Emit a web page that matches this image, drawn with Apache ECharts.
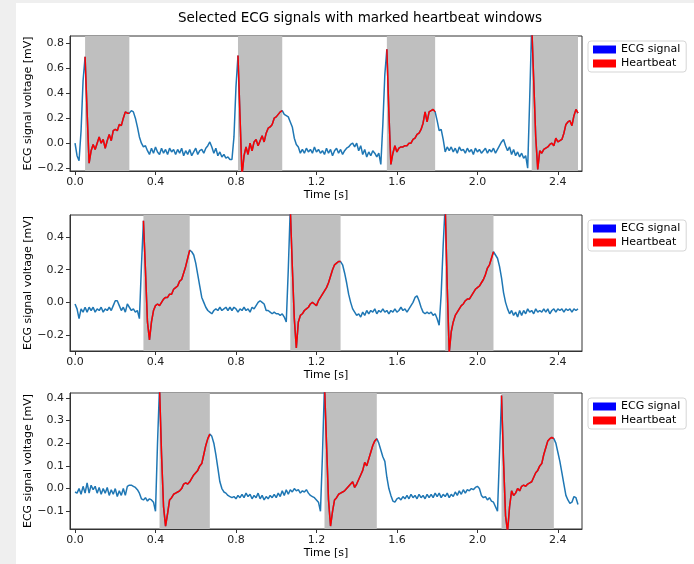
<!DOCTYPE html>
<html>
<head>
<meta charset="utf-8">
<script src="https://cdn.jsdelivr.net/npm/echarts@6/dist/echarts.min.js"></script>
<style>
html, body { margin: 0; padding: 0; }
#chart { width: 694px; height: 564px; }
</style>
</head>
<body>
<div id="chart"></div>
<script>
// sampling step of the signals [s]
var dt = 0.01;

// ECG signal 1 (0.00 .. 2.50 s) [mV]
var ecg1 = [
  0.00,-0.10,-0.14,0.10,0.50,0.69,0.25,-0.16,-0.06,-0.01,
  -0.05,0.00,0.05,0.00,0.03,-0.04,0.02,0.07,0.02,0.10,
  0.11,0.10,0.15,0.14,0.20,0.25,0.24,0.24,0.26,0.25,
  0.20,0.13,0.05,0.00,-0.03,-0.02,-0.06,-0.09,-0.04,-0.08,
  -0.03,-0.07,-0.09,-0.04,-0.08,-0.05,-0.09,-0.04,-0.07,-0.05,
  -0.09,-0.05,-0.08,-0.04,-0.10,-0.06,-0.09,-0.05,-0.10,-0.07,
  -0.04,-0.09,-0.06,-0.05,-0.08,-0.04,-0.02,0.01,-0.03,-0.08,
  -0.04,-0.10,-0.07,-0.11,-0.09,-0.12,-0.11,-0.13,-0.13,0.05,
  0.45,0.70,0.22,-0.26,-0.10,-0.03,-0.09,0.00,-0.06,0.01,
  0.03,-0.02,0.02,0.06,0.01,0.08,0.12,0.13,0.15,0.20,
  0.21,0.23,0.25,0.26,0.23,0.22,0.21,0.17,0.13,0.04,
  -0.01,-0.03,-0.08,-0.05,-0.08,-0.04,-0.07,-0.05,-0.08,-0.03,
  -0.07,-0.05,-0.08,-0.06,-0.09,-0.04,-0.08,-0.05,-0.10,-0.06,
  -0.04,-0.08,-0.05,-0.09,-0.06,-0.04,-0.03,-0.01,0.00,-0.03,
  0.00,-0.06,-0.02,-0.09,-0.05,-0.11,-0.07,-0.10,-0.06,-0.08,
  -0.11,-0.08,-0.17,0.15,0.55,0.75,0.25,-0.17,-0.08,-0.02,
  -0.07,-0.04,-0.03,-0.03,-0.02,-0.02,0.00,0.00,0.03,0.04,
  0.07,0.08,0.11,0.16,0.25,0.17,0.25,0.26,0.27,0.25,
  0.18,0.10,0.11,0.03,-0.07,-0.03,-0.06,-0.03,-0.07,-0.04,
  -0.08,-0.03,-0.06,-0.05,-0.08,-0.04,-0.07,-0.05,-0.09,-0.04,
  -0.07,-0.05,-0.08,-0.06,-0.04,-0.08,-0.05,-0.07,-0.04,-0.08,
  -0.05,-0.02,0.01,0.03,-0.02,-0.06,-0.03,-0.09,-0.05,-0.10,
  -0.07,-0.11,-0.08,-0.12,-0.10,-0.20,0.35,0.95,0.50,0.05,
  -0.21,-0.06,-0.08,-0.05,-0.04,-0.03,-0.01,0.00,-0.02,0.04,
  0.01,0.02,0.03,0.08,0.15,0.17,0.18,0.14,0.22,0.27,
  0.24
];
// ECG signal 2
var ecg2 = [
  -0.01,-0.04,-0.10,-0.04,-0.06,-0.03,-0.06,-0.03,-0.05,-0.03,
  -0.06,-0.04,-0.05,-0.03,-0.06,-0.04,-0.05,-0.03,-0.05,-0.02,
  0.01,0.01,-0.02,-0.05,-0.03,-0.06,-0.01,-0.03,-0.05,-0.04,
  -0.06,-0.05,-0.10,0.22,0.50,0.20,-0.12,-0.23,-0.12,-0.05,
  -0.02,-0.01,-0.02,0.00,0.02,0.03,0.03,0.05,0.05,0.08,
  0.09,0.10,0.13,0.14,0.18,0.22,0.27,0.32,0.31,0.29,
  0.24,0.17,0.10,0.03,0.00,-0.03,-0.05,-0.06,-0.07,-0.05,
  -0.04,-0.05,-0.03,-0.05,-0.04,-0.03,-0.05,-0.03,-0.05,-0.03,
  -0.04,-0.06,-0.04,-0.05,-0.03,-0.05,-0.04,-0.06,-0.03,-0.04,
  -0.02,0.00,0.01,0.00,-0.01,-0.05,-0.05,-0.06,-0.07,-0.06,
  -0.07,-0.07,-0.08,-0.07,-0.09,-0.12,0.20,0.58,0.22,-0.10,
  -0.28,-0.12,-0.08,-0.07,-0.05,-0.04,-0.03,-0.01,0.00,-0.01,
  -0.02,0.01,0.03,0.05,0.07,0.09,0.12,0.16,0.20,0.23,
  0.24,0.25,0.25,0.23,0.18,0.12,0.05,0.00,-0.04,-0.06,
  -0.08,-0.07,-0.09,-0.06,-0.08,-0.05,-0.07,-0.05,-0.06,-0.04,
  -0.07,-0.05,-0.06,-0.04,-0.06,-0.05,-0.07,-0.05,-0.06,-0.04,
  -0.06,-0.05,-0.03,-0.05,-0.04,-0.06,-0.04,-0.02,0.00,0.03,
  0.04,0.01,-0.03,-0.06,-0.07,-0.06,-0.07,-0.06,-0.08,-0.07,
  -0.10,-0.14,0.05,0.35,0.60,0.10,-0.31,-0.18,-0.12,-0.08,
  -0.06,-0.04,-0.02,-0.01,0.01,0.02,0.02,0.04,0.06,0.08,
  0.09,0.10,0.12,0.14,0.17,0.21,0.23,0.27,0.31,0.29,
  0.27,0.22,0.15,0.06,0.00,-0.04,-0.07,-0.05,-0.08,-0.06,
  -0.09,-0.05,-0.08,-0.05,-0.07,-0.04,-0.06,-0.05,-0.07,-0.04,
  -0.06,-0.05,-0.06,-0.04,-0.06,-0.04,-0.07,-0.05,-0.04,-0.06,
  -0.04,-0.05,-0.04,-0.06,-0.04,-0.05,-0.04,-0.06,-0.04,-0.05,
  -0.04
];
// ECG signal 3
var ecg3 = [
  -0.015,-0.02,0.00,-0.025,0.01,-0.02,0.025,-0.02,0.015,-0.005,
  0.01,-0.02,0.005,-0.025,0.00,-0.02,0.005,-0.03,-0.005,-0.025,
  0.00,-0.035,-0.01,-0.03,0.00,-0.03,0.01,0.015,0.015,0.01,
  0.005,-0.005,-0.02,-0.045,-0.05,-0.04,-0.055,-0.045,-0.05,-0.06,
  -0.10,0.20,0.45,0.15,-0.08,-0.165,-0.11,-0.05,-0.04,-0.025,
  -0.02,-0.015,-0.01,0.00,0.02,0.025,0.02,0.03,0.045,0.06,
  0.07,0.08,0.10,0.11,0.15,0.19,0.22,0.24,0.23,0.20,
  0.15,0.09,0.03,0.00,-0.015,-0.02,-0.03,-0.035,-0.04,-0.035,
  -0.045,-0.03,-0.04,-0.025,-0.04,-0.02,-0.035,-0.025,-0.045,-0.03,
  -0.04,-0.02,-0.045,-0.03,-0.05,-0.035,-0.045,-0.03,-0.04,-0.025,
  -0.04,-0.02,-0.035,-0.01,-0.03,-0.005,-0.025,-0.005,-0.015,0.00,
  -0.01,-0.005,-0.02,-0.01,-0.015,-0.005,-0.02,-0.03,-0.035,-0.04,
  -0.05,-0.06,-0.10,0.15,0.46,0.20,-0.05,-0.165,-0.10,-0.05,
  -0.04,-0.025,-0.02,-0.015,-0.01,0.00,0.01,0.02,0.03,0.005,
  0.02,0.04,0.06,0.08,0.115,0.10,0.13,0.16,0.19,0.21,
  0.22,0.20,0.17,0.14,0.12,0.05,0.00,-0.03,-0.055,-0.06,
  -0.045,-0.04,-0.05,-0.035,-0.045,-0.03,-0.045,-0.025,-0.04,-0.03,
  -0.045,-0.025,-0.04,-0.03,-0.045,-0.025,-0.04,-0.025,-0.04,-0.02,
  -0.035,-0.02,-0.04,-0.025,-0.035,-0.02,-0.04,-0.025,-0.035,-0.015,
  -0.03,-0.01,-0.025,-0.005,-0.02,-0.005,-0.01,0.00,-0.005,0.005,
  0.01,0.00,-0.03,-0.04,-0.035,-0.05,-0.04,-0.055,-0.06,-0.08,
  -0.10,0.15,0.41,0.12,-0.12,-0.19,-0.08,-0.01,-0.03,-0.02,
  0.00,-0.01,0.01,0.015,0.01,0.02,0.025,0.03,0.05,0.07,
  0.08,0.10,0.11,0.15,0.18,0.21,0.22,0.225,0.22,0.20,
  0.16,0.12,0.07,0.02,-0.03,-0.05,-0.065,-0.06,-0.035,-0.04,
  -0.07
];

// heartbeat windows [s]
var winStart1 = [0.05, 0.81, 1.55, 2.27];
var winEnd1 = [0.27, 1.03, 1.79, 2.50];
var winStart2 = [0.34, 1.07, 1.84];
var winEnd2 = [0.57, 1.32, 2.08];
var winStart3 = [0.42, 1.24, 2.12];
var winEnd3 = [0.67, 1.50, 2.38];

// tick labels
var xTicks = [0, 0.4, 0.8, 1.2, 1.6, 2.0, 2.4];
var yTicks1 = [-0.2, 0, 0.2, 0.4, 0.6, 0.8];
var yTicks2 = [-0.2, 0, 0.2, 0.4];
var yTicks3 = [-0.1, 0, 0.1, 0.2, 0.3, 0.4];

var signals = [ecg1, ecg2, ecg3];
var starts = [winStart1, winStart2, winStart3];
var ends = [winEnd1, winEnd2, winEnd3];
var yTicks = [yTicks1, yTicks2, yTicks3];

// layout of the three panels
var gridTops = [36, 215, 393];
var gridHeights = [135, 136, 136];
var yRanges = [[-0.222, 0.856], [-0.298, 0.535], [-0.178, 0.421]];
var legendTops = [41, 220, 398];

var font = 'DejaVu Sans';
function tickFmt(v) {
    return (v < -1e-9 ? '\u2212' : '') + Math.abs(v).toFixed(1);
}

var grids = [], xAxes = [], yAxes = [], series = [], legends = [];

for (var k = 0; k < 3; k++) {
    grids.push({
        left: 70, width: 512, top: gridTops[k], height: gridHeights[k],
        show: true, borderColor: '#333', borderWidth: 1, backgroundColor: 'transparent'
    });
    xAxes.push({
        type: 'value', gridIndex: k, min: -0.025, max: 2.52,
        name: 'Time [s]', nameLocation: 'middle', nameGap: 19, nameMoveOverlap: false,
        nameTextStyle: { fontFamily: font, fontSize: 11, color: '#000' },
        axisLine: { show: true, onZero: false, lineStyle: { color: '#333' } },
        axisTick: { show: true, length: 4, customValues: xTicks, lineStyle: { color: '#333' } },
        axisLabel: { customValues: xTicks, formatter: tickFmt, fontFamily: font, fontSize: 11, color: '#222', margin: 6 },
        splitLine: { show: false }
    });
    yAxes.push({
        type: 'value', gridIndex: k, min: yRanges[k][0], max: yRanges[k][1],
        name: 'ECG signal voltage [mV]', nameLocation: 'middle', nameGap: 36, nameMoveOverlap: false,
        nameTextStyle: { fontFamily: font, fontSize: 11, color: '#000' },
        axisLine: { show: true, onZero: false, lineStyle: { color: '#333' } },
        axisTick: { show: true, length: 4, customValues: yTicks[k], lineStyle: { color: '#333' } },
        axisLabel: { customValues: yTicks[k], formatter: tickFmt, fontFamily: font, fontSize: 11, color: '#222', margin: 6 },
        splitLine: { show: false }
    });

    var sig = signals[k], st = starts[k], en = ends[k];
    var blue = [], red = [];
    for (var i = 0; i < sig.length; i++) {
        var t = +(i * dt).toFixed(2);
        blue.push([t, sig[i]]);
        var inside = false;
        for (var w = 0; w < st.length; w++) {
            if (t >= st[w] - 1e-9 && t <= en[w] + 1e-9) inside = true;
        }
        red.push([t, inside ? sig[i] : '-']);
    }
    var areas = st.map(function (s, w) {
        return [{ xAxis: s }, { xAxis: en[w] }];
    });

    // grey heartbeat windows
    series.push({
        type: 'line', xAxisIndex: k, yAxisIndex: k, data: [], z: 1,
        markArea: { silent: true, itemStyle: { color: '#bfbfbf' }, data: areas }
    });
    series.push({
        name: 'ECG signal', type: 'line', xAxisIndex: k, yAxisIndex: k, data: blue,
        showSymbol: false, z: 2, lineStyle: { color: '#1f77b4', width: 1.5 }, itemStyle: { color: '#1f77b4' }
    });
    series.push({
        name: 'Heartbeat', type: 'line', xAxisIndex: k, yAxisIndex: k, data: red,
        showSymbol: false, z: 3, lineStyle: { color: '#ff0000', width: 1.5 }, itemStyle: { color: '#ff0000' }
    });

    legends.push({
        left: 588, top: legendTops[k], orient: 'vertical', selectedMode: false,
        icon: 'rect', itemWidth: 23, itemHeight: 8, itemGap: 3,
        padding: [3, 6, 3, 5], backgroundColor: '#fff', borderColor: '#d5d5d5', borderWidth: 1, borderRadius: 3,
        textStyle: { fontFamily: font, fontSize: 11, color: '#000' },
        data: [
            { name: 'ECG signal', itemStyle: { color: '#0000ff' } },
            { name: 'Heartbeat', itemStyle: { color: '#ff0000' } }
        ]
    });
}

var myChart = echarts.init(document.getElementById('chart'));
myChart.setOption({
    animation: false,
    backgroundColor: '#efefef',
    graphic: [{ type: 'rect', z: -100, shape: { x: 16, y: 3, width: 678, height: 561 }, style: { fill: '#fff' } }],
    title: {
        text: 'Selected ECG signals with marked heartbeat windows',
        left: 355, top: 6, textAlign: 'center',
        textStyle: { fontFamily: font, fontSize: 13.5, fontWeight: 'normal', color: '#000' }
    },
    legend: legends,
    grid: grids,
    xAxis: xAxes,
    yAxis: yAxes,
    series: series
});
</script>
</body>
</html>
